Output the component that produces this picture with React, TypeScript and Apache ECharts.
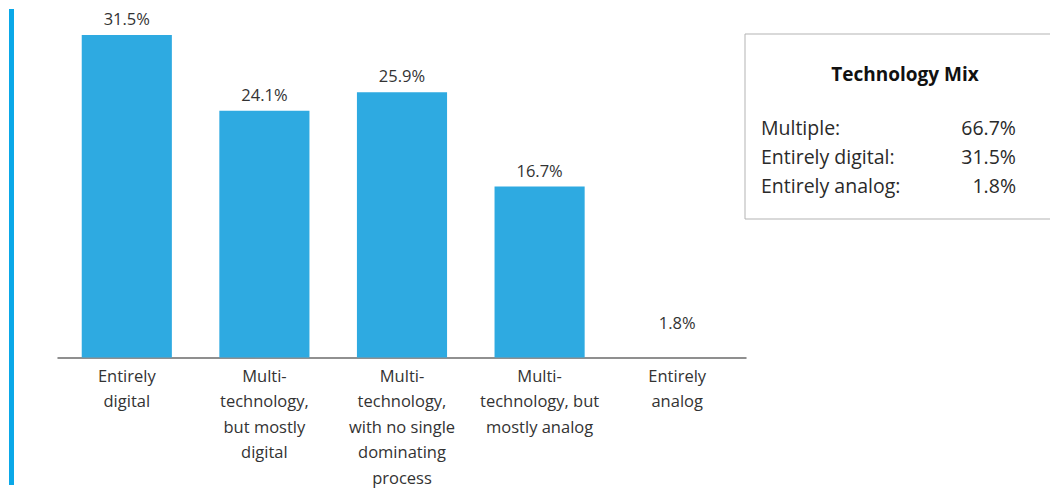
import React, { useEffect, useRef } from "react";
import * as echarts from "echarts";

const categories = [
  "Entirely\ndigital",
  "Multi-\ntechnology,\nbut mostly\ndigital",
  "Multi-\ntechnology,\nwith no single\ndominating\nprocess",
  "Multi-\ntechnology, but\nmostly analog",
  "Entirely\nanalog",
];
const values = [31.5, 24.1, 25.9, 16.7, 1.8];
const barColors = ["#2EAAE1", "#2EAAE1", "#2EAAE1", "#2EAAE1", "transparent"];

const mixTitle = "Technology Mix";
const mixLabels = ["Multiple:", "Entirely digital:", "Entirely analog:"];
const mixValues = ["66.7%", "31.5%", "1.8%"];

const FONT = "'Open Sans', sans-serif";

export default function App() {
  const ref = useRef<HTMLDivElement>(null);
  useEffect(() => {
    if (!ref.current) return;
    const chart = echarts.init(ref.current, null, { renderer: "svg" });
    const legendChildren: any[] = [
      {
        type: "rect",
        shape: { x: 745, y: 34, width: 330, height: 185 },
        style: { fill: "#fff", stroke: "#b3b3b3", lineWidth: 1 },
      },
      {
        type: "text",
        x: 905,
        y: 74,
        style: {
          text: mixTitle,
          font: `bold 19px ${FONT}`,
          fill: "#111",
          align: "center",
          verticalAlign: "middle",
        },
      },
    ];
    mixLabels.forEach((l, i) => {
      legendChildren.push({
        type: "text",
        x: 761,
        y: 127 + i * 29,
        style: { text: l, font: `19.5px ${FONT}`, fill: "#2a2a2a", align: "left", verticalAlign: "middle" },
      });
      legendChildren.push({
        type: "text",
        x: 1016,
        y: 127 + i * 29,
        style: { text: mixValues[i], font: `19.5px ${FONT}`, fill: "#2a2a2a", align: "right", verticalAlign: "middle" },
      });
    });
    chart.setOption({
      animation: false,
      grid: { left: 58, top: 35, width: 688, bottom: 129 },
      xAxis: {
        type: "category",
        data: categories,
        axisTick: { show: false },
        axisLine: { lineStyle: { color: "#6b6b6b", width: 1.5 } },
        axisLabel: {
          interval: 0,
          color: "#333",
          fontSize: 16.5,
          fontFamily: FONT,
          lineHeight: 25.5,
          margin: 5,
        },
      },
      yAxis: {
        type: "value",
        min: 0,
        max: 31.5,
        show: false,
        splitLine: { show: false },
      },
      series: [
        {
          type: "bar",
          barWidth: "65.5%",
          data: values.map((v, i) => ({ value: v, itemStyle: { color: barColors[i] } })),
          label: {
            show: true,
            position: "top",
            distance: 8,
            formatter: "{c}%",
            color: "#333",
            fontSize: 16.5,
            fontFamily: FONT,
          },
        },
      ],
      graphic: [
        {
          type: "rect",
          shape: { x: 9, y: 9, width: 5, height: 476 },
          style: { fill: "#0AA8E8" },
        },
        ...legendChildren,
      ],
    });
    return () => chart.dispose();
  }, []);
  return <div ref={ref} style={{ width: 1050, height: 490, position: "absolute", left: 0, top: 0 }} />;
}
